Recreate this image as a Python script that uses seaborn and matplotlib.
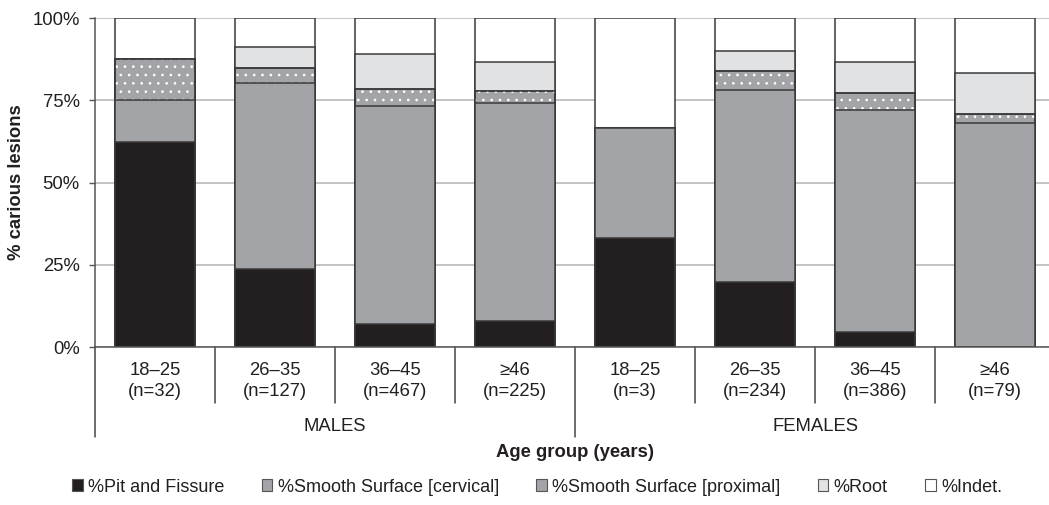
import matplotlib
matplotlib.use("Agg")
import matplotlib.pyplot as plt
from matplotlib.patches import Patch
import seaborn as sns
import pandas as pd

# ---- data ----
age_groups = ["18–25", "26–35", "36–45", "≥46", "18–25", "26–35", "36–45", "≥46"]
n_values = [32, 127, 467, 225, 3, 234, 386, 79]
sex_groups = ["MALES", "FEMALES"]
pit_fissure = [62.5, 23.6, 6.9, 8.0, 33.3, 19.7, 4.7, 0.0]
smooth_cervical = [12.5, 56.7, 66.5, 66.1, 33.3, 58.5, 67.4, 68.2]
smooth_proximal = [12.5, 4.7, 5.1, 3.7, 0.0, 5.9, 5.2, 2.7]
root = [0.0, 6.3, 10.7, 8.9, 0.0, 6.0, 9.4, 12.6]
indet = [12.5, 8.7, 10.8, 13.3, 33.4, 9.9, 13.3, 16.5]
series_names = ["%Pit and Fissure", "%Smooth Surface [cervical]",
                "%Smooth Surface [proximal]", "%Root", "%Indet."]
y_ticks = [0, 25, 50, 75, 100]

# ---- style ----
sns.set_style("white")
plt.rcParams["font.family"] = ["Liberation Sans", "DejaVu Sans"]
plt.rcParams["hatch.linewidth"] = 0.7

c_black = "#231f20"
c_cerv = "#a3a4a7"
c_root = "#e1e2e4"
c_indet = "#ffffff"
c_edge = "#3a3a3a"
c_text = "#231f20"

W, H = 1049, 505
fig = plt.figure(figsize=(W / 100, H / 100), dpi=100)
ax_left, ax_right, ax_bottom, ax_top = 95, 1055, 347, 18.3
ax = fig.add_axes([ax_left / W, 1 - ax_bottom / H, (ax_right - ax_left) / W, (ax_bottom - ax_top) / H])

cats = [f"{a}\n(n={n})" for a, n in zip(age_groups, n_values)]
df = pd.DataFrame({
    "cat": cats,
    "pit": pit_fissure,
    "cerv": smooth_cervical,
    "prox": smooth_proximal,
    "root": root,
    "indet": indet,
})
df["c1"] = df["pit"]
df["c2"] = df["c1"] + df["cerv"]
df["c3"] = df["c2"] + df["prox"]
df["c4"] = df["c3"] + df["root"]
df["c5"] = df["c4"] + df["indet"]

bw = 0.667
common = dict(data=df, x="cat", order=cats, width=bw, errorbar=None, ax=ax,
              edgecolor=c_edge, linewidth=1.1, saturation=1)
sns.barplot(y="c5", color=c_indet, **common)
sns.barplot(y="c4", color=c_root, **common)
sns.barplot(y="c3", color=c_cerv, **common)
# white dotted hatch overlay for proximal
sns.barplot(data=df, x="cat", y="c3", order=cats, width=bw, errorbar=None, ax=ax,
            color="white", fill=False, hatch="..", linewidth=0)
# redraw outline of proximal top
sns.barplot(data=df, x="cat", y="c3", order=cats, width=bw, errorbar=None, ax=ax,
            color=c_edge, fill=False, linewidth=1.1)
sns.barplot(y="c2", color=c_cerv, **common)
sns.barplot(y="c1", color=c_black, **common)

ax.set_xlim(-0.5, 7.5)
ax.set_ylim(0, 100)
ax.set_yticks(y_ticks)
ax.set_yticklabels([f"{v}%" for v in y_ticks], fontsize=13.3, color=c_text)
ax.yaxis.grid(True, color="#b4b4b4", linewidth=1.1)
ax.set_axisbelow(True)
ax.tick_params(axis="y", direction="out", length=4, width=1, color="#555555", pad=7, left=True)
ax.set_xlabel("")
ax.set_ylabel("")
ax.set_xticks([])
for s in ["top", "right"]:
    ax.spines[s].set_visible(False)
ax.spines["left"].set_color("#555555")
ax.spines["bottom"].set_color("#555555")
ax.spines["left"].set_linewidth(1.1)
ax.spines["bottom"].set_linewidth(1.1)

trans = ax.get_xaxis_transform()
hpx = ax_bottom - ax_top

def ypos(px):
    return (ax_bottom - px) / hpx

for i, c in enumerate(cats):
    ax.text(i, ypos(381), c, transform=trans, ha="center", va="center",
            fontsize=13.3, color=c_text, linespacing=1.25)

# separators
for b in [0.5, 1.5, 2.5, 4.5, 5.5, 6.5]:
    ax.plot([b, b], [0, ypos(403)], transform=trans, color="#444444", lw=1.1, clip_on=False)
for b in [-0.5, 3.5]:
    ax.plot([b, b], [0, ypos(437)], transform=trans, color="#444444", lw=1.1, clip_on=False)

ax.text(1.5, ypos(426), sex_groups[0], transform=trans, ha="center", va="center", fontsize=13.3, color=c_text)
ax.text(5.5, ypos(426), sex_groups[1], transform=trans, ha="center", va="center", fontsize=13.3, color=c_text)
ax.text(3.5, ypos(452), "Age group (years)", transform=trans, ha="center", va="center",
        fontsize=13.3, fontweight="bold", color=c_text)

fig.text(17 / W, 1 - 182.5 / H, "% carious lesions", rotation=90, ha="center", va="center",
         fontsize=13.3, fontweight="bold", color=c_text)

handles = [
    Patch(facecolor=c_black, edgecolor="#555555", linewidth=0.8),
    Patch(facecolor=c_cerv, edgecolor="#555555", linewidth=0.8),
    Patch(facecolor=c_cerv, edgecolor="#555555", linewidth=0.8),
    Patch(facecolor=c_root, edgecolor="#555555", linewidth=0.8),
    Patch(facecolor=c_indet, edgecolor="#555555", linewidth=0.8),
]
fig.legend(handles, series_names, loc="center", bbox_to_anchor=(537 / W, 1 - 487 / H),
           ncol=5, frameon=False, fontsize=13, handlelength=0.6, handleheight=0.6,
           handletextpad=0.3, columnspacing=2.05, labelcolor=c_text)

fig.savefig("out.png", dpi=100)
